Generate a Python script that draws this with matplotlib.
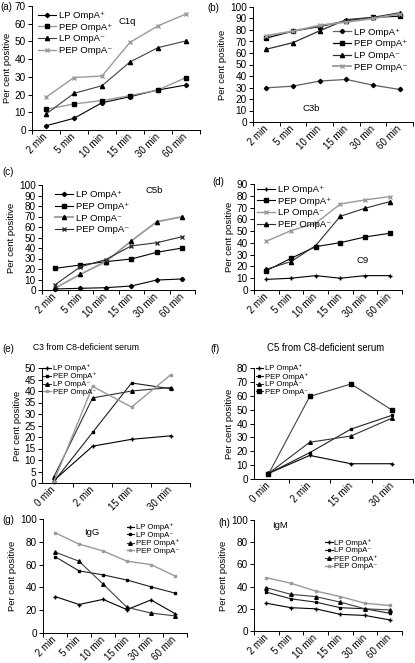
import matplotlib
matplotlib.use("Agg")
import matplotlib.pyplot as plt
import matplotlib.transforms as mtransforms
from matplotlib.ticker import FixedLocator, MultipleLocator

plt.rcParams['font.family'] = ['Liberation Sans', 'DejaVu Sans']

times6 = ['2 min', '5 min', '10 min', '15 min', '30 min', '60 min']
times4 = ['0 min', '2 min', '15 min', '30 min']

LPp = 'LP OmpA⁺'
PEPp = 'PEP OmpA⁺'
LPm = 'LP OmpA⁻'
PEPm = 'PEP OmpA⁻'

# (a) C1q
c1q_lp_pos = [2.4, 6.6, 15.4, 18.8, 22.6, 25.4]
c1q_pep_pos = [11.7, 14.7, 16.6, 19.4, 22.6, 29.6]
c1q_lp_neg = [9, 20.7, 25, 38.4, 46.5, 50.3]
c1q_pep_neg = [18.5, 29.6, 30.5, 49.5, 58.8, 65.5]
# (b) C3b
c3b_lp_pos = [29.7, 31.2, 35.6, 37, 32, 28.3]
c3b_pep_pos = [73, 79, 83, 88, 91, 92]
c3b_lp_neg = [63.3, 69, 79.3, 89, 91, 95]
c3b_pep_neg = [75, 79, 84, 87, 90, 94]
# (c) C5b
c5b_lp_pos = [1, 1.6, 2.2, 3.8, 9.5, 10.5]
c5b_pep_pos = [20.6, 23.8, 27, 29.5, 35.9, 40]
c5b_lp_neg = [1.6, 14.9, 27, 46.7, 65, 69.8]
c5b_pep_neg = [4.8, 22, 29, 42, 45, 50.8]
# (d) C9
c9_lp_pos = [9, 10, 12.2, 10, 12.2, 12.2]
c9_pep_pos = [16.4, 26.9, 36.8, 40.2, 45, 48.2]
c9_lp_neg = [41.4, 50.4, 56.7, 73, 76.5, 79.3]
c9_pep_neg = [17.6, 24.1, 37.7, 62.6, 69.4, 75]
# (e) C3 from C8-deficient serum
c3d_lp_pos = [1, 16, 19, 20.5]
c3d_pep_pos = [0.5, 22, 43.5, 41]
c3d_lp_neg = [2.5, 37, 40, 41.5]
c3d_pep_neg = [0.5, 42, 33, 47]
# (f) C5 from C8-deficient serum
c5d_lp_pos = [4, 17, 11, 11]
c5d_pep_pos = [4, 19, 36, 46]
c5d_lp_neg = [4, 26.5, 31, 44]
c5d_pep_neg = [3.5, 59.5, 68.5, 49.5]
# (g) IgG
igg_lp_pos = [32, 25, 29.5, 20.5, 29, 17]
igg_lp_neg = [67, 54.5, 51, 46.5, 40.5, 35]
igg_pep_pos = [71, 63, 43, 22.5, 17.5, 15]
igg_pep_neg = [88, 78, 72, 63, 60, 50]
# (h) IgM
igm_lp_pos = [25, 21, 20, 15, 14, 10]
igm_lp_neg = [35, 29, 26, 21, 20, 16]
igm_pep_pos = [39, 33, 31, 26, 20, 19]
igm_pep_neg = [48, 43, 36, 31, 25, 23]

W, H = 415, 663
fig = plt.figure(figsize=(W / 100, H / 100), dpi=100)


def make_ax(l, r, t, b):
    return fig.add_axes([l / W, 1 - b / H, (r - l) / W, (b - t) / H])


K = 'black'
G = '#9a9a9a'


def panel(ax, cats, series, ymax, ystep, letter, lpos, xlim, leg, legsmall=False):
    x = list(range(len(cats)))
    for vals, lab, mk, col, mcol, ms, lw in series:
        ax.plot(x, vals, color=col, marker=mk, ms=ms, mfc=mcol, mec=mcol,
                lw=lw, label=lab, clip_on=False)
    ax.set_xlim(*xlim)
    ax.set_ylim(0, ymax)
    ax.yaxis.set_major_locator(MultipleLocator(ystep))
    ax.set_xticks(x)
    ax.set_xticklabels(cats, rotation=45, ha='right', va='center',
                       rotation_mode='anchor', fontsize=7)
    shift = mtransforms.ScaledTranslation(-3 / 100, 0, fig.dpi_scale_trans)
    for lab in ax.get_xticklabels():
        lab.set_transform(lab.get_transform() + shift)
    ax.tick_params(axis='x', which='major', length=0, pad=3.5)
    bounds = [i + 0.5 for i in range(-1, len(cats))]
    bounds = [v for v in bounds if xlim[0] - 1e-6 <= v <= xlim[1] + 1e-6]
    ax.xaxis.set_minor_locator(FixedLocator(bounds))
    ax.tick_params(axis='x', which='minor', length=3, width=0.7)
    ax.tick_params(axis='y', length=3, width=0.7, labelsize=7.2, pad=1.5)
    for s in ['top', 'right']:
        ax.spines[s].set_visible(False)
    for s in ['left', 'bottom']:
        ax.spines[s].set_linewidth(0.7)
    ax.set_ylabel('Per cent positive', fontsize=6.8, labelpad=2)
    fig.text(lpos[0] / W, 1 - lpos[1] / H, letter, fontsize=7, va='top', ha='left')
    if legsmall:
        ax.legend(loc='upper left', bbox_to_anchor=leg, frameon=False, fontsize=5.6,
                  handlelength=1.0, handletextpad=0.2, labelspacing=0.05,
                  borderaxespad=0, borderpad=0)
    else:
        ax.legend(loc='upper left', bbox_to_anchor=leg, frameon=False, fontsize=6.8,
                  handlelength=1.9, handletextpad=0.3, labelspacing=0.28,
                  borderaxespad=0, borderpad=0)


ax = make_ax(32, 200, 6, 130)
panel(ax, times6, [
    (c1q_lp_pos, LPp, 'D', K, K, 2.2, 0.8),
    (c1q_pep_pos, PEPp, 's', G, K, 2.8, 1.0),
    (c1q_lp_neg, LPm, '^', '#404040', K, 3, 0.8),
    (c1q_pep_neg, PEPm, 'x', G, G, 2.6, 1.0),
], 70, 10, '(a)', (0, 2), (-0.5, 5.5), (0.036, 0.96))
ax.text(2.9, 61, 'C1q', ha='center', va='center', fontsize=6.8)

ax = make_ax(253, 413, 7, 122)
panel(ax, times6, [
    (c3b_lp_pos, LPp, 'D', '#606060', K, 2.2, 0.9),
    (c3b_pep_pos, PEPp, 's', K, K, 2.8, 0.9),
    (c3b_lp_neg, LPm, '^', '#303030', K, 3, 0.9),
    (c3b_pep_neg, PEPm, 'x', G, G, 2.6, 1.3),
], 100, 10, '(b)', (207, 3), (-0.5, 5.5), (0.5, 0.82))
ax.text(1.7, 12, 'C3b', ha='center', va='center', fontsize=6.8)

ax = make_ax(42, 195, 185, 290)
panel(ax, times6, [
    (c5b_lp_pos, LPp, 'D', K, K, 2.2, 0.8),
    (c5b_pep_pos, PEPp, 's', K, K, 2.8, 0.8),
    (c5b_lp_neg, LPm, '^', G, K, 3, 1.3),
    (c5b_pep_neg, PEPm, 'x', '#303030', '#303030', 2.6, 0.8),
], 100, 10, '(c)', (2, 167), (-0.5, 5.5), (0.085, 0.95))
ax.text(3.9, 95, 'C5b', ha='center', va='center', fontsize=6.8)

ax = make_ax(254, 402, 184, 290)
panel(ax, times6, [
    (c9_lp_pos, LPp, '+', K, K, 3.5, 0.8),
    (c9_pep_pos, PEPp, 's', K, K, 2.8, 0.8),
    (c9_lp_neg, LPm, 'x', G, G, 2.6, 1.0),
    (c9_pep_neg, PEPm, '^', '#303030', K, 3, 0.8),
], 90, 10, '(d)', (212, 177), (-0.5, 5.5), (0.02, 0.99))
ax.text(3.9, 25, 'C9', ha='center', va='center', fontsize=6.8)

ax = make_ax(42, 190, 368, 483)
panel(ax, times4, [
    (c3d_lp_pos, LPp, '+', K, K, 3, 0.8),
    (c3d_pep_pos, PEPp, 's', '#202020', K, 1.8, 0.8),
    (c3d_lp_neg, LPm, '^', '#303030', K, 2.6, 0.8),
    (c3d_pep_neg, PEPm, 's', G, G, 1.8, 1.0),
], 50, 5, '(e)', (2, 344), (-0.3, 3.5), (0.01, 1.03), legsmall=True)
fig.text(86 / W, 1 - 348 / H, 'C3 from C8-deficient serum', ha='center',
         va='center', fontsize=6.2)

ax = make_ax(254, 413, 368, 479)
panel(ax, times4, [
    (c5d_lp_pos, LPp, '+', K, K, 3, 0.8),
    (c5d_pep_pos, PEPp, 's', '#202020', K, 1.8, 0.8),
    (c5d_lp_neg, LPm, '^', '#303030', K, 2.6, 0.8),
    (c5d_pep_neg, PEPm, 's', '#404040', K, 3.2, 0.8),
], 80, 10, '(f)', (210, 344), (-0.35, 3.5), (0.01, 1.03), legsmall=True)
fig.text(326 / W, 1 - 348 / H, 'C5 from C8-deficient serum', ha='center',
         va='center', fontsize=6.9)

ax = make_ax(43, 187, 519, 633)
panel(ax, times6, [
    (igg_lp_pos, LPp, '+', K, K, 3, 0.8),
    (igg_lp_neg, LPm, 's', '#202020', K, 1.8, 0.8),
    (igg_pep_pos, PEPp, '^', '#404040', K, 2.6, 0.8),
    (igg_pep_neg, PEPm, 's', G, G, 1.8, 1.0),
], 100, 20, '(g)', (2, 515), (-0.5, 5.5), (0.58, 0.96), legsmall=True)
ax.text(1.55, 88, 'IgG', ha='center', va='center', fontsize=6.8)

ax = make_ax(254, 402, 520, 631)
panel(ax, times6, [
    (igm_lp_pos, LPp, '+', K, K, 3, 0.8),
    (igm_lp_neg, LPm, 's', '#202020', K, 1.8, 0.8),
    (igm_pep_pos, PEPp, '^', '#404040', K, 2.6, 0.8),
    (igm_pep_neg, PEPm, 's', G, G, 1.8, 1.0),
], 100, 20, '(h)', (218, 518), (-0.5, 5.5), (0.48, 0.83), legsmall=True)
ax.text(0.55, 95, 'IgM', ha='center', va='center', fontsize=6.8)

fig.savefig('out.png', dpi=100)
